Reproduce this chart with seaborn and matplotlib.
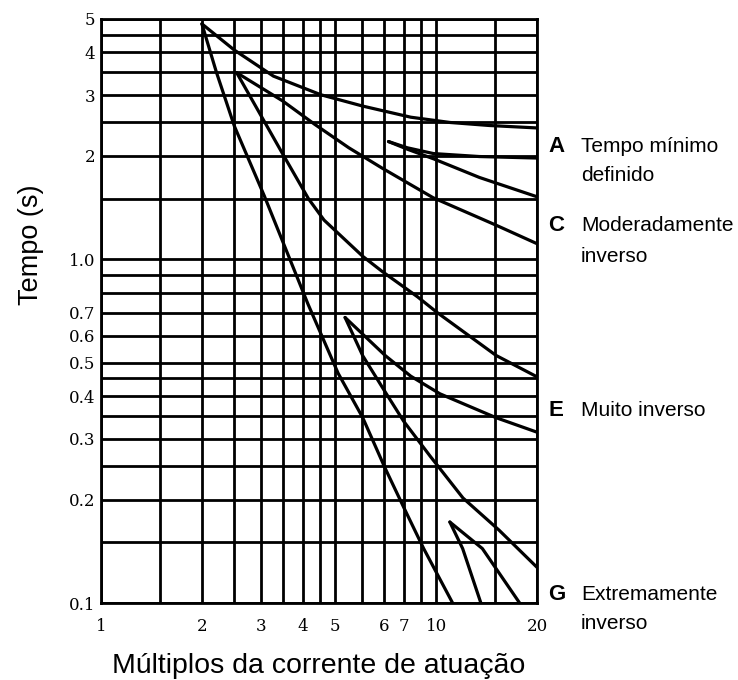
import matplotlib
matplotlib.use("Agg")
import matplotlib.pyplot as plt
import seaborn as sns
import pandas as pd

# ---- data (multiples of pickup current, time in s) ----
a1_x = [2.0, 2.5, 3.27, 4.53, 6.04, 8.40, 11.0, 14.4, 20.0]
a1_y = [4.84, 4.06, 3.41, 3.01, 2.79, 2.59, 2.50, 2.45, 2.41]

a2_x = [7.21, 8.21, 9.82, 13.46, 20.0]
a2_y = [2.20, 2.11, 2.03, 1.99, 1.97]

c1_x = [7.21, 8.21, 9.82, 13.46, 20.0]
c1_y = [2.20, 2.09, 1.96, 1.73, 1.52]

c2_x = [2.54, 3.48, 4.34, 5.49, 6.91, 9.80, 15.0, 20.0]
c2_y = [3.49, 2.89, 2.47, 2.11, 1.84, 1.51, 1.26, 1.11]

e1_x = [2.54, 3.48, 4.16, 4.63, 6.04, 6.91, 8.81, 10.07, 15.1, 20.0]
e1_y = [3.49, 2.03, 1.50, 1.30, 1.02, 0.921, 0.777, 0.700, 0.525, 0.455]

e2_x = [5.35, 7.06, 8.40, 10.27, 15.1, 20.0]
e2_y = [0.677, 0.524, 0.457, 0.406, 0.346, 0.314]

g1_x = [5.35, 6.04, 7.06, 8.0, 9.61, 12.03, 15.4, 20.0]
g1_y = [0.677, 0.524, 0.410, 0.338, 0.267, 0.202, 0.163, 0.127]

g2_x = [2.0, 2.21, 2.5, 3.07, 4.15, 5.10, 6.04, 7.04, 8.0, 9.18, 11.2]
g2_y = [4.84, 3.5, 2.44, 1.53, 0.739, 0.466, 0.346, 0.247, 0.190, 0.144, 0.100]

g3_x = [10.99, 12.0, 13.6]
g3_y = [0.172, 0.144, 0.100]

g4_x = [10.99, 13.74, 17.75]
g4_y = [0.172, 0.144, 0.100]

curves = {"A1": (a1_x, a1_y), "A2": (a2_x, a2_y), "C1": (c1_x, c1_y),
          "C2": (c2_x, c2_y), "E1": (e1_x, e1_y), "E2": (e2_x, e2_y),
          "G1": (g1_x, g1_y), "G2": (g2_x, g2_y), "G3": (g3_x, g3_y),
          "G4": (g4_x, g4_y)}

grid_x = [1, 1.5, 2, 2.5, 3, 3.5, 4, 4.5, 5, 6, 7, 8, 9, 10, 15, 20]
grid_y = [0.1, 0.15, 0.2, 0.25, 0.3, 0.35, 0.4, 0.45, 0.5, 0.6, 0.7, 0.8, 0.9,
          1.0, 1.5, 2, 2.5, 3, 3.5, 4, 4.5, 5]

xtick_pos = [1, 2, 3, 4, 5, 7, 8, 10, 20]
xtick_labels = ["1", "2", "3", "4", "5", "6", "7", "10", "20"]
ytick_pos = [5, 4, 3, 2, 1.0, 0.7, 0.6, 0.5, 0.4, 0.3, 0.2, 0.1]
ytick_labels = ["5", "4", "3", "2", "1.0", "0.7", "0.6", "0.5", "0.4", "0.3", "0.2", "0.1"]

curve_labels = [("A", "Tempo mínimo", "definido"),
                ("C", "Moderadamente", "inverso"),
                ("E", "Muito inverso", None),
                ("G", "Extremamente", "inverso")]
label_baselines = [(152, 181), (231, 262), (416, None), (600, 629)]

rows = []
for name, (xs, ys) in curves.items():
    for i, (xv, yv) in enumerate(zip(xs, ys)):
        rows.append({"curve": name, "order": i, "x": xv, "y": yv})
df = pd.DataFrame(rows)

# ---- drawing ----
sns.set_style("white")
plt.rcParams.update({"text.color": "black", "axes.labelcolor": "black",
                     "xtick.color": "black", "ytick.color": "black"})
W, H = 738, 680
fig = plt.figure(figsize=(W / 100, H / 100), dpi=100)
ax = fig.add_axes([101 / W, 1 - 603 / H, (537 - 101) / W, (603 - 19) / H])
ax.set_xscale("log")
ax.set_yscale("log")
ax.set_xlim(1, 20)
ax.set_ylim(0.1, 5)

for gx in grid_x:
    ax.axvline(gx, color="black", lw=2.0, zorder=1)
for gy in grid_y:
    ax.axhline(gy, color="black", lw=2.0, zorder=1)

sns.lineplot(data=df, x="x", y="y", units="curve", estimator=None, sort=False,
             color="black", lw=2.3, ax=ax, legend=False, zorder=3)

for s in ax.spines.values():
    s.set_color("black")
    s.set_linewidth(2.0)

ax.xaxis.set_minor_locator(matplotlib.ticker.NullLocator())
ax.yaxis.set_minor_locator(matplotlib.ticker.NullLocator())
ax.set_xticks(xtick_pos)
ax.set_xticklabels(xtick_labels, fontfamily="DejaVu Serif", fontsize=12)
ax.set_yticks(ytick_pos)
ax.set_yticklabels(ytick_labels, fontfamily="DejaVu Serif", fontsize=12)
ax.tick_params(axis="x", length=0, pad=11, colors="black")
ax.tick_params(axis="y", length=0, pad=4, colors="black")
ax.set_xlabel("")
ax.set_ylabel("")

sans = ["Liberation Sans", "DejaVu Sans"]
fig.text(319 / W, 1 - 673 / H, "Múltiplos da corrente de atuação",
         family=sans, fontsize=20.5, ha="center", va="baseline", color="black")
fig.text(31 / W, 1 - 245 / H, "Tempo (s)", family=sans, fontsize=19.5,
         rotation=90, ha="center", va="center", color="black")

for (letter, l1, l2), (b1, b2) in zip(curve_labels, label_baselines):
    fig.text(548 / W, 1 - b1 / H, letter, family=sans, fontsize=16,
             fontweight="bold", ha="left", va="baseline", color="black")
    fig.text(581 / W, 1 - b1 / H, l1, family=sans, fontsize=15,
             ha="left", va="baseline", color="black")
    if l2:
        fig.text(581 / W, 1 - b2 / H, l2, family=sans, fontsize=15,
                 ha="left", va="baseline", color="black")

fig.savefig("out.png", dpi=100, facecolor="white")
